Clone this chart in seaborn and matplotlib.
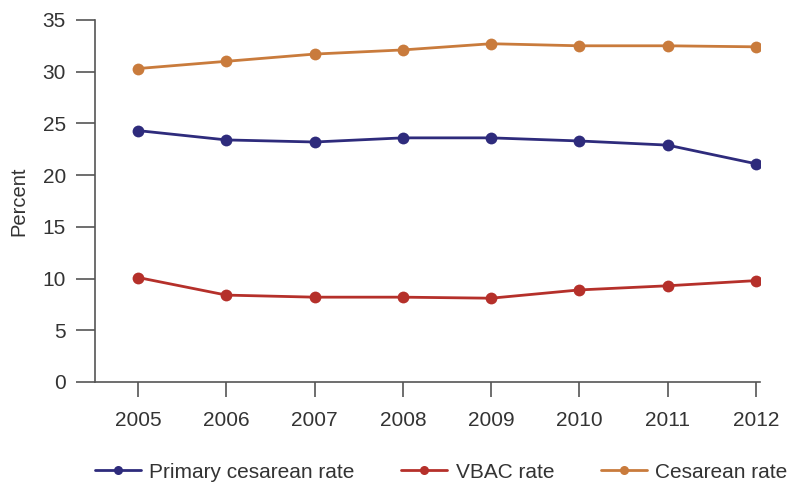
import pandas as pd
import matplotlib.pyplot as plt
import seaborn as sns

# Values
years = [2005, 2006, 2007, 2008, 2009, 2010, 2011, 2012]
primary_rate = [24.3, 23.4, 23.2, 23.6, 23.6, 23.3, 22.9, 21.1]
vbac_rate = [10.1, 8.4, 8.2, 8.2, 8.1, 8.9, 9.3, 9.8]
cesarean_rate = [30.3, 31.0, 31.7, 32.1, 32.7, 32.5, 32.5, 32.4]

series_names = ['Primary cesarean rate', 'VBAC rate', 'Cesarean rate']
series_colors = ['#2e2b7c', '#b5302a', '#c97b3c']

# Long-form table for seaborn
df = pd.DataFrame({
    'Year': years * 3,
    'Percent': primary_rate + vbac_rate + cesarean_rate,
    'Series': [s for s in series_names for _ in years],
})

sns.set_style('ticks')
plt.rcParams['font.family'] = ['Liberation Sans', 'DejaVu Sans']

fig = plt.figure(figsize=(7.91, 4.86), dpi=100)
ax = fig.add_axes([0.120, 0.214, 0.841, 0.745])

sns.lineplot(data=df, x='Year', y='Percent', hue='Series', hue_order=series_names,
             palette=series_colors, marker='o', markersize=8.5, markeredgewidth=0,
             linewidth=2, ax=ax, legend=False)

ax.set_xlim(2004.51, 2012.05)
ax.set_ylim(0, 35)
ax.set_xticks(years)
ax.set_yticks(range(0, 36, 5))
ax.set_xlabel('')
ax.set_ylabel('Percent', fontsize=14.5, color='#333333')
ax.yaxis.set_label_coords(-0.10, 0.5)
ax.tick_params(axis='both', labelsize=15, colors='#333333', width=1.2, color='#555555')
ax.tick_params(axis='y', length=14, pad=7)
ax.tick_params(axis='x', length=11, pad=10)
for side in ['left', 'bottom']:
    ax.spines[side].set_color('#555555')
    ax.spines[side].set_linewidth(1.2)
sns.despine(ax=ax)

# Legend along the bottom
handles = [plt.Line2D([], [], color=c, marker='o', markersize=6.5, markeredgewidth=0, linewidth=2)
           for c in series_colors]
fig.legend(handles, series_names, loc='center left', bbox_to_anchor=(95 / 791, 1 - 472 / 486),
           ncol=3, frameon=False, fontsize=15, handlelength=2.2, handletextpad=0.4,
           columnspacing=2.25, borderpad=0, borderaxespad=0, labelcolor='#333333')

plt.savefig('out.png', dpi=100)
